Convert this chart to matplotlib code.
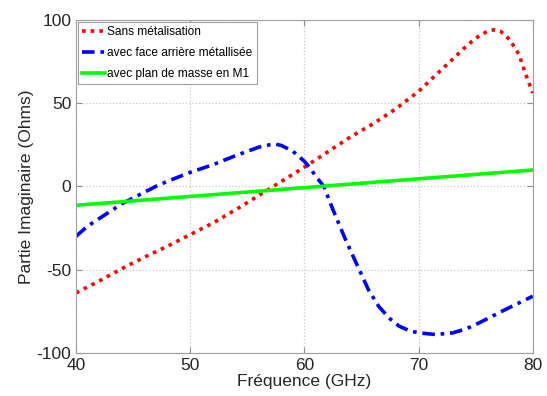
import matplotlib.pyplot as plt

# Frequency (GHz) / imaginary part (Ohms)
freq_red = [40, 42, 44, 46, 48, 50, 52, 54, 56, 58, 60, 62, 64, 66, 68, 70,
            72, 74, 75, 76, 76.6, 77.2, 78, 78.8, 79.4, 80]
imag_red = [-64, -57, -49.5, -42.5, -36, -29, -22, -14, -5.5, 3, 11.5, 20.5,
            29.5, 37.5, 46.5, 57, 70, 83, 89, 93, 94, 93, 88, 79, 67, 56]

freq_blue = [40, 41, 42, 43, 44, 45, 46, 47, 48, 50, 52, 54, 55, 56, 57, 57.5,
             58, 59, 60, 60.5, 61, 61.7, 62.5, 63.6, 64.8, 65.6, 66.5, 67.4,
             68.3, 69.2, 70, 71.5, 73, 74.2, 75.3, 77.6, 80]
imag_blue = [-30, -24, -19.5, -15, -10.5, -7, -3.5, 0, 3, 8.4, 13, 18.5, 21,
             23.5, 25, 25.3, 24.5, 21, 15, 11, 6, 0, -14, -32, -50, -62, -72,
             -79, -84, -86.7, -88, -89, -88, -85.5, -82, -74, -66]

freq_green = [40, 50, 60, 70, 80]
imag_green = [-11.4, -6.1, -0.8, 4.5, 9.8]

labels = ["Sans métalisation", "avec face arrière métallisée",
          "avec plan de masse en M1"]

plt.rcParams["font.family"] = ["Liberation Sans", "DejaVu Sans"]
plt.rcParams["axes.unicode_minus"] = False

fig = plt.figure(figsize=(5.47, 3.96), dpi=100)
ax = fig.add_axes([0.139, 0.109, 0.835, 0.841])

ax.plot(freq_red, imag_red, color="#ff0000", linewidth=2.6,
        linestyle=(0, (1, 1.4)), label=labels[0])
ax.plot(freq_blue, imag_blue, color="#0000ff", linewidth=2.6,
        linestyle=(0, (3.5, 1.6, 1, 1.6)), label=labels[1])
ax.plot(freq_green, imag_green, color="#00ff00", linewidth=2.6,
        label=labels[2])

ax.set_xlim(40, 80)
ax.set_ylim(-100, 100)
ax.set_xticks([40, 50, 60, 70, 80])
ax.set_yticks([-100, -50, 0, 50, 100])

ax.grid(True, color="#c8c8c8", linestyle=":", linewidth=0.9)
ax.tick_params(direction="in", top=True, right=True, labelsize=12.5,
               length=4, colors="#909090", labelcolor="#262626")
for s in ax.spines.values():
    s.set_color("#a0a0a0")

ax.set_xlabel("Fréquence (GHz)", fontsize=12.5, color="#262626", labelpad=1)
ax.set_ylabel("Partie Imaginaire (Ohms)", fontsize=12.5, color="#262626",
              labelpad=2)

leg = ax.legend(loc="upper left", fontsize=8.6, handlelength=1.9,
                handletextpad=0.2, borderaxespad=0.15, borderpad=0.35,
                labelspacing=0.75, fancybox=False, framealpha=1)
leg.get_frame().set_edgecolor("#a0a0a0")
leg.get_frame().set_linewidth(0.8)

fig.savefig("out.png", dpi=100)
